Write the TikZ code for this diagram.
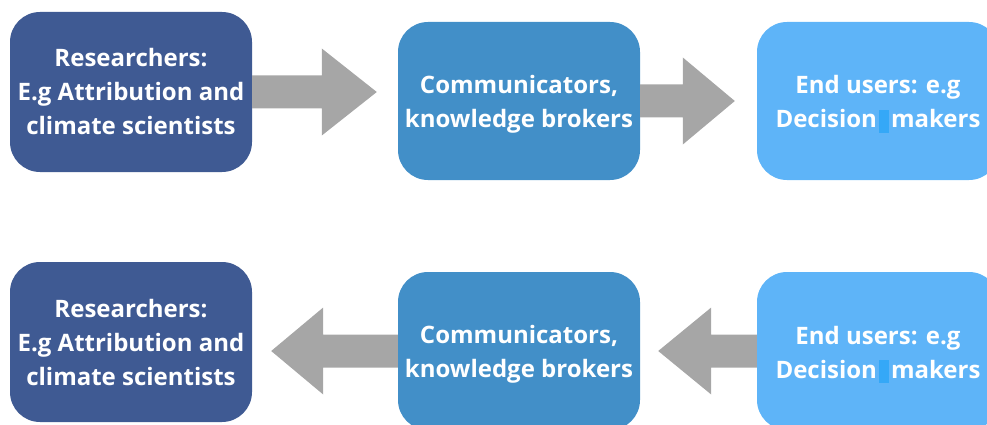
\documentclass[tikz,border=0pt]{standalone}
\usepackage{fontspec}
\setmainfont{Open Sans}
\usetikzlibrary{calc}
\definecolor{researchblue}{HTML}{3F5A93}
\definecolor{commblue}{HTML}{428FC8}
\definecolor{userblue}{HTML}{5EB4F8}
\definecolor{markblue}{HTML}{35A8F7}
\definecolor{arrowgray}{HTML}{A6A6A6}
% block arrow: #1 start node anchor, #2 target anchor,
% #3 signed gap before target, #4 signed head length
\newcommand\blockarrow[4]{%
  \fill[arrowgray] let \p1=(#1), \p2=(#2) in
    (\x1,\y1+16.5pt) -- (\x2-#3-#4,\y1+16.5pt) -- (\x2-#3-#4,\y1+43.5pt)
    -- (\x2-#3,\y1) -- (\x2-#3-#4,\y1-43.5pt) -- (\x2-#3-#4,\y1-16.5pt)
    -- (\x1,\y1-16.5pt) -- cycle;}
% strut that lowers a two-line label a little
\newcommand\lowstrut{\rule{0pt}{25pt}}
\begin{document}
\begin{tikzpicture}[x=1pt,y=-1pt,
  stage/.style={rounded corners=30pt, minimum width=242pt, text=white,
    align=center, inner sep=0pt,
    font=\fontsize{24}{34}\selectfont\bfseries},
  research/.style={stage, fill=researchblue, minimum height=160pt},
  comm/.style={stage, fill=commblue, minimum height=158pt},
  user/.style={stage, fill=userblue, minimum height=158pt}]
\useasboundingbox (0,0) rectangle (987,425);
\clip (0,0) rectangle (987,425);

% top row: research flows towards decision makers
\node[research] (r1) at (131,92) {Researchers:\\E.g Attribution and\\climate scientists};
\node[comm] (c1) at (519,101) {\lowstrut Communicators,\\knowledge brokers};
\node[user] (e1) at (878,101) {\lowstrut End users: e.g\\Decision\hspace{2pt}{\color{markblue}\rule[-5pt]{10pt}{23pt}}\hspace{2pt}makers};
\blockarrow{r1.east}{c1.west}{21pt}{55pt}
\blockarrow{c1.east}{e1.west}{22pt}{52pt}

% bottom row: feedback from decision makers back to researchers
\node[research] (r2) at (131,342) {Researchers:\\E.g Attribution and\\climate scientists};
\node[comm] (c2) at (519,351) {\lowstrut Communicators,\\knowledge brokers};
\node[user] (e2) at (878,351) {\lowstrut End users: e.g\\Decision\hspace{2pt}{\color{markblue}\rule[-5pt]{10pt}{23pt}}\hspace{2pt}makers};
\blockarrow{c2.west}{r2.east}{-19pt}{-52pt}
\blockarrow{e2.west}{c2.east}{-18pt}{-53pt}
\end{tikzpicture}
\end{document}
